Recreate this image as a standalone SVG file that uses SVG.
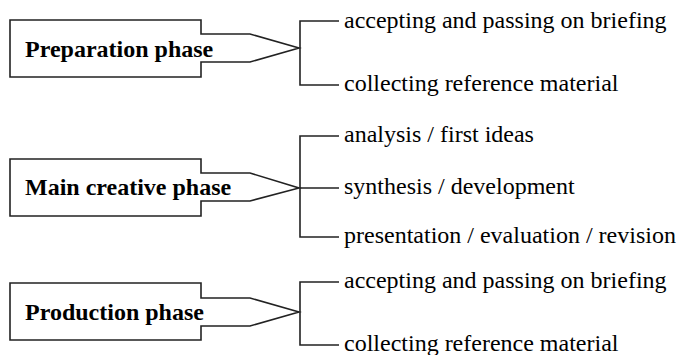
<svg xmlns="http://www.w3.org/2000/svg" width="687" height="355" viewBox="0 0 687 355">
<style>
.box{fill:#fff;stroke:#222;stroke-width:1.6;stroke-linejoin:miter}
.conn{fill:none;stroke:#222;stroke-width:1.6}
.lbl{font-family:'Liberation Serif',serif;font-weight:bold;font-size:24px;fill:#000}
.item{font-family:'Liberation Serif',serif;font-size:24px;fill:#000}
</style>
<rect width="687" height="355" fill="#fff"/>
<g id="connectors">
<path class="conn" d="M339,21 H300 V85 H339"/>
<path class="conn" d="M339,136 H300 V237 H339 M300,188 H339"/>
<path class="conn" d="M339,282 H300 V345 H339"/>
</g>
<g id="preparation">
<path class="box" d="M10,20 H201 V34 H250 L299,48 L250,62 H201 V77 H10 Z"/>
<text class="lbl" x="25" y="57">Preparation phase</text>
</g>
<g id="main">
<path class="box" d="M10,159 H201 V173 H250 L299,188 L250,201 H201 V216 H10 Z"/>
<text class="lbl" x="25" y="195">Main creative phase</text>
</g>
<g id="production">
<path class="box" d="M10,283 H201 V298 H250 L299,312 L250,326 H201 V340 H10 Z"/>
<text class="lbl" x="25" y="320">Production phase</text>
</g>
<g id="items1">
<text class="item" x="344" y="28">accepting and passing on briefing</text>
<text class="item" x="344" y="91">collecting reference material</text>
</g>
<g id="items2">
<text class="item" x="344" y="142">analysis / first ideas</text>
<text class="item" x="344" y="194">synthesis / development</text>
<text class="item" x="344" y="243">presentation / evaluation / revision</text>
</g>
<g id="items3">
<text class="item" x="344" y="288">accepting and passing on briefing</text>
<text class="item" x="344" y="351">collecting reference material</text>
</g>
</svg>
